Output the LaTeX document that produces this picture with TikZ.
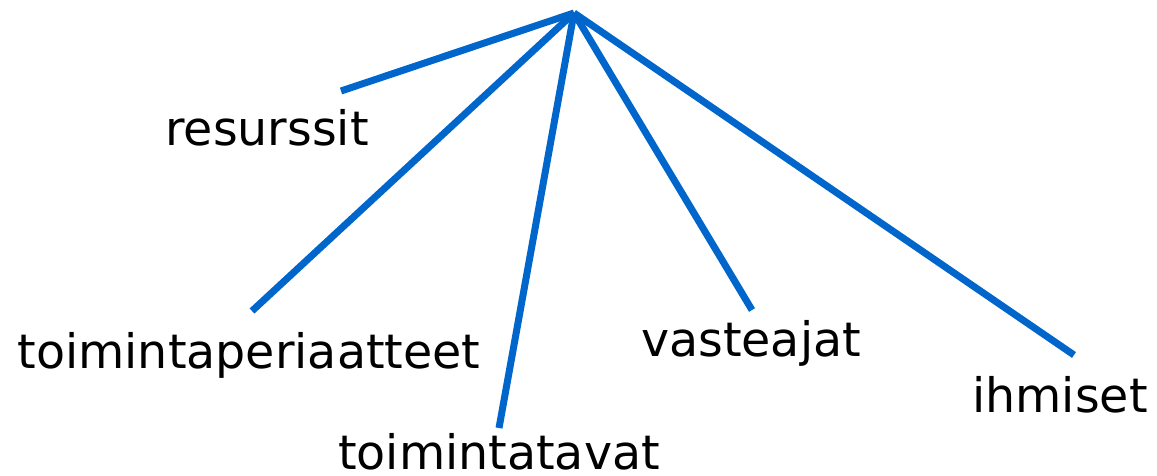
\documentclass[tikz,border=0pt]{standalone}
\usepackage{fontspec}
\setmainfont{DejaVu Sans}
\definecolor{lineblue}{RGB}{0,102,204}
\begin{document}
\begin{tikzpicture}[x=1pt,y=-1pt,
  branch/.style={draw=lineblue,line width=7pt},
  lbl/.style={anchor=base,inner sep=0pt,font=\fontsize{47.5}{56}\selectfont,text=black}]
\useasboundingbox (0,0) rectangle (1157,476);
\coordinate (apex) at (574,13);
\coordinate (e1) at (341,91);
\coordinate (e2) at (252,311);
\coordinate (e3) at (499,428);
\coordinate (e4) at (752,310);
\coordinate (e5) at (1074,355);
\node[lbl] (resurssit) at (267,146) {resurssit};
\node[lbl] (periaatteet) at (249,368) {toimintaperiaatteet};
\node[lbl] (tavat) at (499,469) {toimintatavat};
\node[lbl] (vasteajat) at (751,356) {vasteajat};
\node[lbl] (ihmiset) at (1060,412) {ihmiset};
\draw[branch] (apex) -- (e1);
\draw[branch] (apex) -- (e2);
\draw[branch] (apex) -- (e3);
\draw[branch] (apex) -- (e4);
\draw[branch] (apex) -- (e5);
\end{tikzpicture}
\end{document}
